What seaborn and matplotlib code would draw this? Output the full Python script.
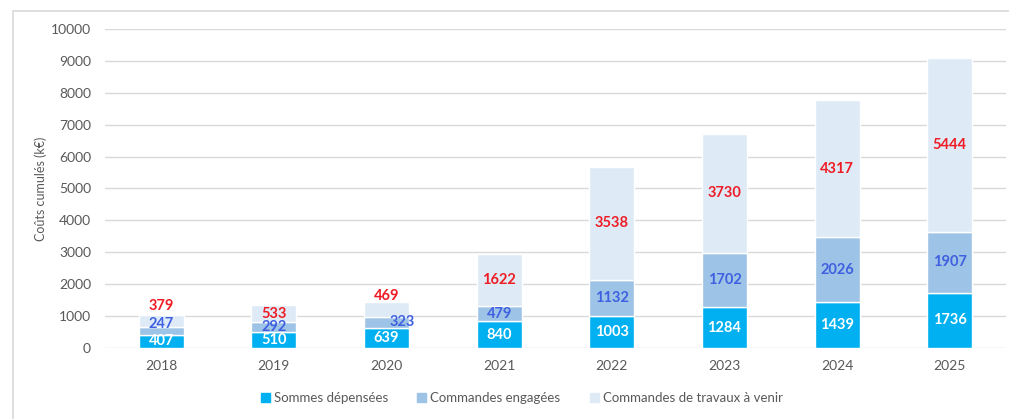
import matplotlib
matplotlib.use("Agg")
import matplotlib.pyplot as plt
import matplotlib.patches as mpatches
import numpy as np
import pandas as pd
import seaborn as sns

# ── Data ──────────────────────────────────────────────────────────────────────
years     = ["2018", "2019", "2020", "2021", "2022", "2023", "2024", "2025"]
depensees = [407, 510, 639, 840, 1003, 1284, 1439, 1736]
engagees  = [247, 292, 323, 479, 1132, 1702, 2026, 1907]
a_venir   = [379, 533, 469, 1622, 3538, 3730, 4317, 5444]

series_names = ["Sommes dépensées", "Commandes engagées", "Commandes de travaux à venir"]
bar_colors   = ["#00B0F0", "#9DC3E6", "#DEEBF7"]
text_colors  = ["white", "#3F60E0", "#EE1C25"]

# a few labels were nudged by hand in the original (offset in points)
label_nudge = {
    (0, 1): (0, 5), (0, 2): (0, 11),
    (2, 1): (11, 0), (2, 2): (0, 10),
}

df = pd.DataFrame({"year": years, "dep": depensees, "eng": engagees, "ven": a_venir})
df["b_eng"] = df["dep"]
df["b_ven"] = df["dep"] + df["eng"]

sns.set_theme(style="white")
plt.rcParams["font.family"] = ["Lato", "DejaVu Sans"]
GRAY = "#595959"

fig = plt.figure(figsize=(10.09, 4.19), dpi=100)
ax = fig.add_axes([0.104, 0.1695, 0.893, 0.7613])

# chart frame like the exported office chart
fig.patches.append(mpatches.Rectangle((13 / 1009, -0.1), 1.2, 1 - 11 / 419 + 0.1,
                                      transform=fig.transFigure, fill=False,
                                      edgecolor="#D9D9D9", lw=1.2, zorder=0))

cols    = ["dep", "eng", "ven"]
bottoms = [None, "b_eng", "b_ven"]
for name, col, bcol, color in zip(series_names, cols, bottoms, bar_colors):
    kw = {} if bcol is None else {"bottom": df[bcol]}
    sns.barplot(data=df, x="year", y=col, color=color, width=0.4,
                saturation=1, label=name, ax=ax, zorder=3, **kw)

# data labels in segment centres
for i in range(len(years)):
    base = 0
    for j, col in enumerate(cols):
        v = df[col].iloc[i]
        dx, dy = label_nudge.get((i, j), (0, 0))
        ax.annotate(f"{v}", (i, base + v / 2), xytext=(dx, dy),
                    textcoords="offset points", ha="center", va="center",
                    fontsize=10.5, fontweight="bold", color=text_colors[j],
                    zorder=5)
        base += v

ax.set_ylim(0, 10000)
ax.set_xlim(-0.5, len(years) - 0.5)
ax.set_yticks(np.arange(0, 10001, 1000))
ax.yaxis.grid(True, color="#D9D9D9", lw=1)
ax.set_axisbelow(True)
for s in ax.spines.values():
    s.set_visible(False)
ax.tick_params(axis="both", length=0, colors=GRAY, labelsize=10)
ax.tick_params(axis="x", pad=9)
ax.tick_params(axis="y", pad=10)
ax.set_xlabel("")
ax.set_ylabel("Coûts cumulés (k€)", color=GRAY, fontsize=9, labelpad=3)
if ax.get_legend():
    ax.get_legend().remove()

handles = [mpatches.Patch(color=c, label=n) for n, c in zip(series_names, bar_colors)]
leg = fig.legend(handles=handles, loc="center", bbox_to_anchor=(0.517, 0.05),
                 ncol=3, frameon=False, fontsize=9.5, handlelength=0.7,
                 handleheight=0.7, handletextpad=0.3, columnspacing=2.2)
for t in leg.get_texts():
    t.set_color(GRAY)

fig.savefig("out.png", dpi=100)
